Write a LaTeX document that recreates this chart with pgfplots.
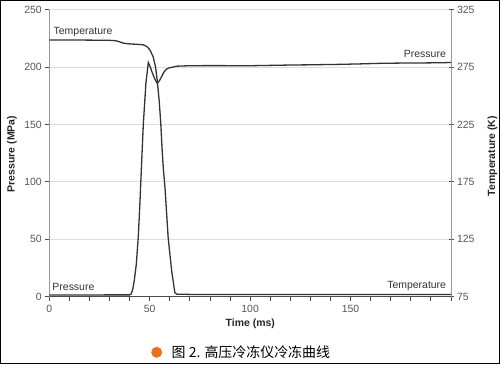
\documentclass[border=0pt]{standalone}
\usepackage{fontspec}
\setmainfont{Liberation Sans}
\newfontfamily\cjk{Noto Sans CJK SC}
\usepackage{pgfplots}
\pgfplotsset{compat=1.18}
\definecolor{curve}{HTML}{333333}
\definecolor{ticktxt}{HTML}{555555}
\definecolor{gridc}{HTML}{DCDCDC}
\definecolor{axisc}{HTML}{999999}
\definecolor{dotc}{HTML}{E8731E}
\pgfplotstableread{
t P
0 1.5
10 1.5
20 1.5
30 1.6
40 1.6
40.8 2.5
41.5 6
42.3 14
43.3 28
44.3 52
45.2 85
45.8 110
46.8 150
48.1 186
49.3 204
50.3 200
51.5 194
52.7 189
53.7 186
54.8 188
56 192
57 195.5
58.2 198
59.5 199.3
61 199.8
63.4 200.8
70 201.2
80 201.3
100 201.2
110 201.5
120 201.8
130 202
145 202.4
155 202.8
165 203.3
175 203.5
185 203.6
195 203.8
200 204
}\pressure
\pgfplotstableread{
t K
0 298.6
10 298.6
20 298.5
30 298.3
33 298
35 297
37 295.8
40 295.2
44 294.8
46.8 294.4
48.5 293
50.1 290
51.7 284
52.9 275
53.7 263.8
54.7 246
55.5 226
56.2 202
56.8 186
57.6 170
59.2 125.8
60.9 98
62.5 78.5
63.5 77.2
70 77
100 76.9
150 76.9
200 77
}\temperature
\begin{document}
\begin{tikzpicture}[x=1bp,y=1bp]
\useasboundingbox (0,0) rectangle (500,366);
\draw[line width=1.2bp, black] (0.6,2.7) rectangle (499.4,365.4);
\begin{axis}[
  at={(49.3bp,69.3bp)}, anchor=south west,
  scale only axis, width=401.7bp, height=287bp,
  xmin=0, xmax=200, ymin=0, ymax=250,
  axis x line*=bottom, axis y line*=left,
  axis line style={-},
  x axis line style={draw=black!70, line width=1.3bp},
  y axis line style={draw=axisc, line width=1bp},
  xtick={0,50,100,150}, minor xtick={10,20,30,40,60,70,80,90,110,120,130,140,160,170,180,190,200},
  ytick={0,50,100,150,200,250},
  tick align=outside,
  major tick length=4bp, minor tick length=4bp,
  tick style={draw=black!70, line width=0.9bp},
  ymajorgrids, grid style={draw=gridc, line width=1bp},
  /pgf/number format/assume math mode=true,
  ticklabel style={font=\fontsize{10.5}{12}\selectfont, text=ticktxt},
  xticklabel style={yshift=-1bp},
  clip=false,
]
\addplot[curve, line width=1.3bp] table[x=t,y=P] {\pressure};
\node[text=curve, font=\fontsize{10.5}{12}\selectfont] at (axis cs:16.8,230.3) {Temperature};
\node[text=curve, font=\fontsize{10.5}{12}\selectfont] at (axis cs:187,211.4) {Pressure};
\node[text=curve, font=\fontsize{10.5}{12}\selectfont] at (axis cs:12,8.7) {Pressure};
\node[text=curve, font=\fontsize{10.5}{12}\selectfont] at (axis cs:182.9,9.3) {Temperature};
\end{axis}
\begin{axis}[
  at={(49.3bp,69.3bp)}, anchor=south west,
  scale only axis, width=401.7bp, height=287bp,
  xmin=0, xmax=200, ymin=75, ymax=325,
  axis y line*=right, axis x line=none,
  axis line style={-},
  y axis line style={draw=axisc, line width=1bp},
  ytick={75,125,175,225,275,325},
  tick align=center,
  major tick length=5bp,
  tick style={draw=black!70, line width=0.9bp},
  /pgf/number format/assume math mode=true,
  ticklabel style={font=\fontsize{10.5}{12}\selectfont, text=ticktxt},
]
\addplot[curve, line width=1.3bp] table[x=t,y=K] {\temperature};
\end{axis}
\node[rotate=90, text=black!85, font=\bfseries\fontsize{10.5}{12}\selectfont] at (12,212) {Pressure (MPa)};
\node[rotate=90, text=black!85, font=\bfseries\fontsize{10.5}{12}\selectfont] at (492.5,210) {Temperature (K)};
\node[text=black!85, font=\bfseries\fontsize{10.5}{12}\selectfont] at (250.3,42.7) {Time (ms)};
\fill[dotc] (156.7,13.7) circle (5.5);
\node[anchor=base west, inner sep=0pt, font=\cjk\fontsize{14}{16}\selectfont] at (171.5,9) {图 2. 高压冷冻仪冷冻曲线};
\end{tikzpicture}
\end{document}
